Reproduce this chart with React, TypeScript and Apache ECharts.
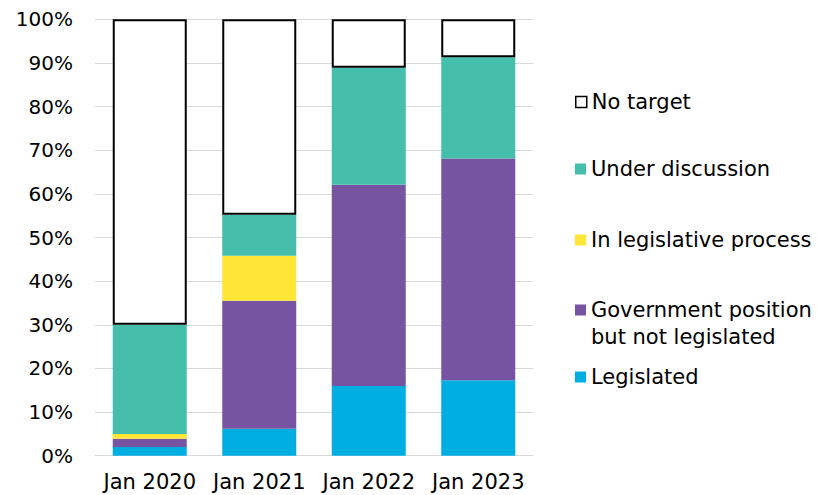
import React, { useEffect, useRef } from "react";
import * as echarts from "echarts";

const categories = ["Jan 2020", "Jan 2021", "Jan 2022", "Jan 2023"];
const legislated = [2.0, 6.2, 16.0, 17.3];
const governmentPosition = [1.9, 29.3, 46.1, 50.8];
const inLegislativeProcess = [1.1, 10.3, 0, 0];
const underDiscussion = [25.0, 9.4, 26.8, 23.2];
const noTarget = [70.0, 44.8, 11.1, 8.7];

const FONT = "DejaVu Sans";
const FS = 21;
const FS_Y = 20;

const colors = {
  legislated: "#00AEE2",
  gov: "#7754A1",
  inLeg: "#FFE535",
  under: "#45BFAB",
};

export default function App() {
  const ref = useRef<HTMLDivElement>(null);
  useEffect(() => {
    if (!ref.current) return;
    const chart = echarts.init(ref.current, null, { renderer: "svg" });
    const barBase = { type: "bar", stack: "total", barWidth: 74 };
    const legendBase = {
      orient: "vertical",
      left: 575,
      padding: 0,
      itemWidth: 11,
      itemHeight: 11,
      icon: "rect",
      selectedMode: false,
      textStyle: { fontFamily: FONT, fontSize: FS, color: "#000" },
    };
    const half = FS / 2;
    chart.setOption({
      animation: false,
      textStyle: { fontFamily: FONT },
      grid: { left: 95, right: 284, top: 19.3, bottom: 39.3, containLabel: false },
      xAxis: {
        type: "category",
        data: categories,
        axisLine: { lineStyle: { color: "#d9d9d9", width: 1 } },
        axisTick: { show: false },
        axisLabel: { fontFamily: FONT, fontSize: FS, color: "#000", margin: 16, interval: 0 },
      },
      yAxis: {
        type: "value",
        min: 0,
        max: 100,
        interval: 10,
        axisLine: { show: false },
        axisTick: { show: false },
        splitLine: { lineStyle: { color: "#d9d9d9", width: 1 } },
        axisLabel: {
          fontFamily: FONT,
          fontSize: FS_Y,
          color: "#000",
          margin: 22,
          formatter: "{value}%",
        },
      },
      legend: [
        { ...legendBase, top: 102 - half, data: [{ name: "No target", itemStyle: { color: "#fff", borderColor: "#000", borderWidth: 1.5 } }] },
        { ...legendBase, top: 169 - half, data: ["Under discussion"] },
        { ...legendBase, top: 240 - half, data: ["In legislative process"] },
        { ...legendBase, top: 310 - half, data: ["Government position"] },
        { ...legendBase, top: 377 - half, data: ["Legislated"] },
      ],
      graphic: [
        {
          type: "text",
          left: 591,
          top: 337 - half,
          style: { text: "but not legislated", fontFamily: FONT, fontSize: FS, fill: "#000" },
        },
      ],
      series: [
        { ...barBase, name: "Legislated", data: legislated, itemStyle: { color: colors.legislated } },
        { ...barBase, name: "Government position", data: governmentPosition, itemStyle: { color: colors.gov } },
        { ...barBase, name: "In legislative process", data: inLegislativeProcess, itemStyle: { color: colors.inLeg } },
        { ...barBase, name: "Under discussion", data: underDiscussion, itemStyle: { color: colors.under } },
        {
          ...barBase,
          name: "No target",
          data: noTarget,
          itemStyle: { color: "#ffffff", borderColor: "#000000", borderWidth: 2 },
        },
      ],
    });
    return () => chart.dispose();
  }, []);
  return (
    <div
      ref={ref}
      style={{ position: "absolute", left: 0, top: 0, width: 817, height: 495 }}
    />
  );
}
